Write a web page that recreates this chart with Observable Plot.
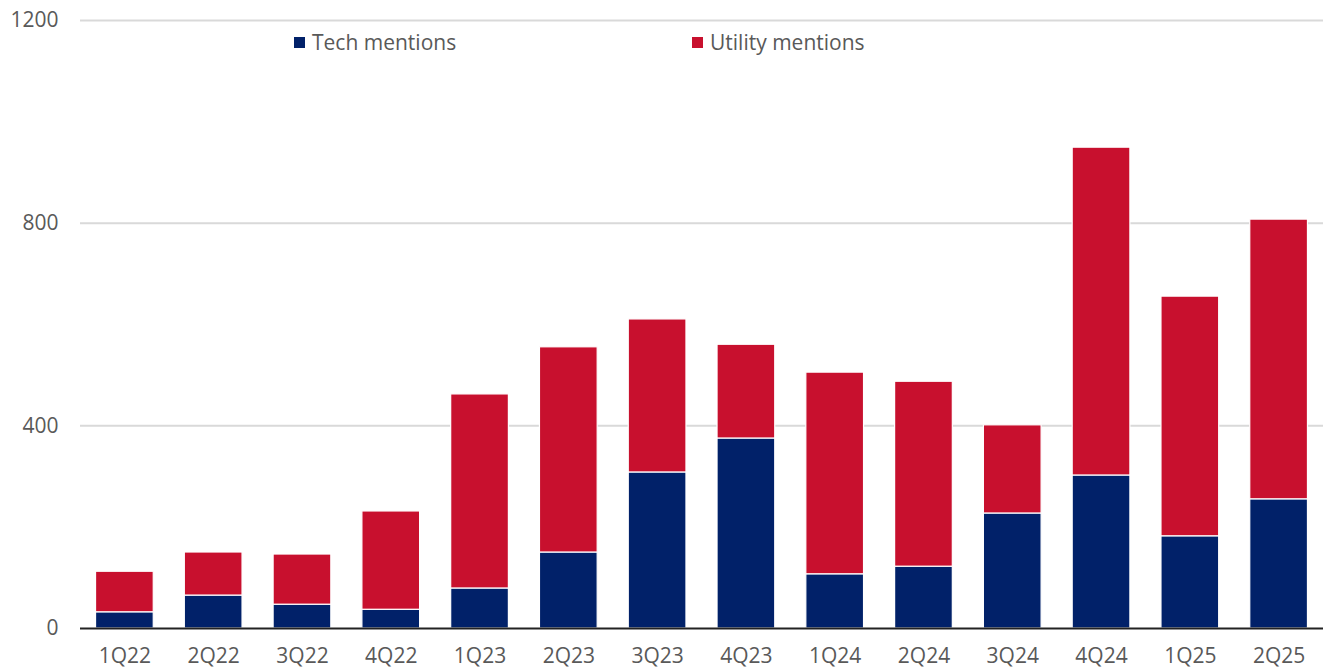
<!DOCTYPE html>
<html>
<head>
<meta charset="utf-8">
<script src="https://cdn.jsdelivr.net/npm/d3@7"></script>
<script src="https://cdn.jsdelivr.net/npm/@observablehq/plot@0.6"></script>
<style>
  body { margin: 0; background: #fff; font-family: "Open Sans", sans-serif; }
  #wrap { position: relative; width: 1324px; height: 669px; }
  .legend { position: absolute; top: 28px; font-size: 21px; color: #595959; display: flex; align-items: center; white-space: nowrap; }
  .legend .sw { width: 11px; height: 11px; display: inline-block; margin-right: 7px; }
</style>
</head>
<body>
<div id="wrap"></div>
<script>
const quarters = ["1Q22","2Q22","3Q22","4Q22","1Q23","2Q23","3Q23","4Q23","1Q24","2Q24","3Q24","4Q24","1Q25","2Q25"];
const techMentions = [32, 65, 47, 37, 79, 150, 308, 375, 107, 122, 227, 302, 182, 255];
const utilityMentions = [80, 85, 99, 194, 383, 405, 302, 185, 398, 365, 174, 647, 473, 552];
const seriesNames = ["Tech mentions", "Utility mentions"];
const seriesColors = ["#012169", "#c8102e"];
const yTicks = [0, 400, 800, 1200];

const data = [];
quarters.forEach((q, i) => {
  data.push({quarter: q, series: seriesNames[0], value: techMentions[i]});
  data.push({quarter: q, series: seriesNames[1], value: utilityMentions[i]});
});

const chart = Plot.plot({
  width: 1324,
  height: 669,
  marginLeft: 80,
  marginRight: 1,
  marginTop: 20,
  marginBottom: 41,
  style: {fontFamily: "Open Sans, sans-serif", fontSize: "21px", color: "#595959", background: "#fff"},
  x: {domain: quarters, paddingInner: 0.35, paddingOuter: 0.175, round: false, label: null, tickSize: 0, tickPadding: 20},
  y: {domain: [0, 1200], ticks: yTicks, tickFormat: d3.format("d"), label: null, tickSize: 0, tickPadding: 22},
  color: {domain: seriesNames, range: seriesColors},
  marks: [
    Plot.ruleY(yTicks.filter(d => d > 0), {stroke: "#d9d9d9", strokeWidth: 2}),
    Plot.barY(data, {x: "quarter", y: "value", fill: "series", stroke: "white", strokeWidth: 1.2, order: seriesNames}),
    Plot.ruleY([0], {stroke: "#222", strokeWidth: 2})
  ]
});

const wrap = document.getElementById("wrap");
wrap.appendChild(chart);

const legendPos = [294, 692];
seriesNames.forEach((name, i) => {
  const d = document.createElement("div");
  d.className = "legend";
  d.style.left = legendPos[i] + "px";
  d.innerHTML = `<span class="sw" style="background:${seriesColors[i]}"></span><span>${name}</span>`;
  wrap.appendChild(d);
});
</script>
</body>
</html>
